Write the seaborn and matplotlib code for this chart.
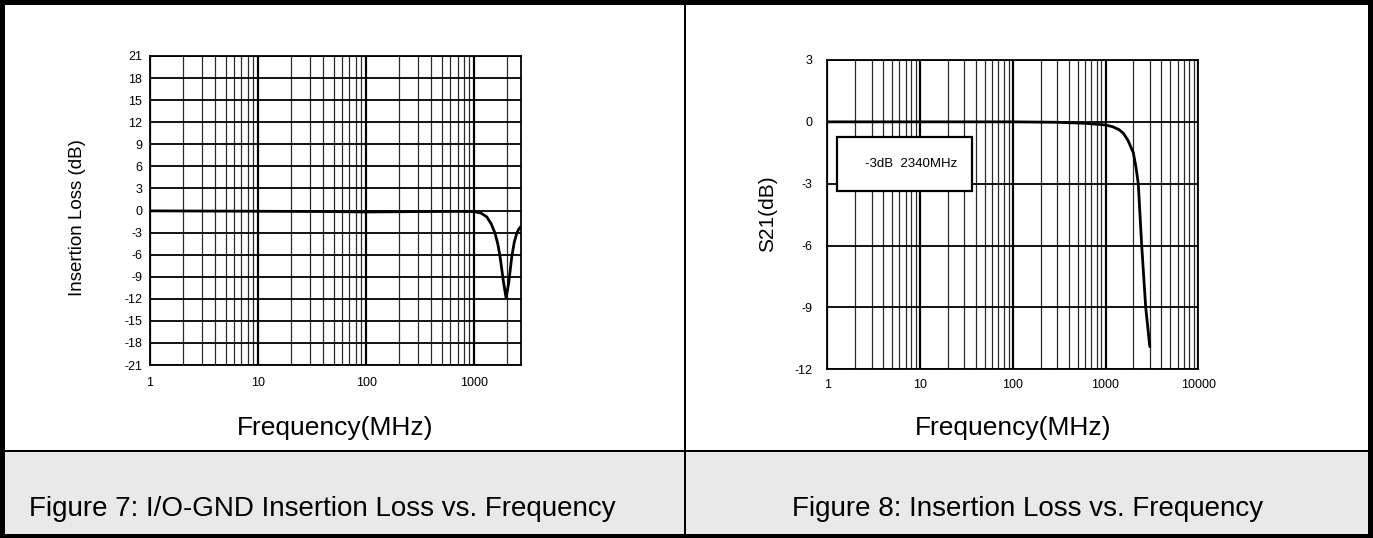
import numpy as np
import pandas as pd
import matplotlib
matplotlib.use("Agg")
import matplotlib.pyplot as plt
import seaborn as sns
from matplotlib.patches import Rectangle
from matplotlib.ticker import LogLocator, NullFormatter, FixedLocator

# ---------------- data ----------------
freq_left = [1, 10, 50, 100, 300, 700, 1000, 1150, 1300, 1430, 1554, 1650, 1730,
             1850, 1965, 2080, 2218, 2340, 2467, 2580, 2687]
loss_left = [-0.05, -0.1, -0.15, -0.2, -0.15, -0.12, -0.15, -0.35, -0.85, -1.8, -3.1,
             -4.6, -6.3, -9.5, -11.9, -9.8, -6.3, -4.3, -3.1, -2.5, -2.2]

freq_right = [1, 10, 100, 300, 600, 1000, 1200, 1400, 1553, 1746, 1993, 2128, 2254,
              2453, 2710, 3000]
s21_right = [0.0, 0.0, 0.0, -0.02, -0.07, -0.15, -0.24, -0.38, -0.55, -0.9, -1.5,
             -2.2, -3.0, -6.0, -9.0, -10.9]

yticks_left = [21, 18, 15, 12, 9, 6, 3, 0, -3, -6, -9, -12, -15, -18, -21]
yticks_right = [3, 0, -3, -6, -9, -12]
xticks_left = [1, 10, 100, 1000]
xticks_right = [1, 10, 100, 1000, 10000]

legend_text = "-3dB  2340MHz"
xlabel = "Frequency(MHz)"
ylabel_left = "Insertion Loss (dB)"
ylabel_right = "S21(dB)"
caption_left = "Figure 7: I/O-GND Insertion Loss vs. Frequency"
caption_right = "Figure 8: Insertion Loss vs. Frequency"

# ---------------- style ----------------
sns.set_style("white")
plt.rcParams["font.family"] = ["Liberation Sans", "DejaVu Sans"]
plt.rcParams["axes.unicode_minus"] = False
for key in ["text.color", "axes.labelcolor", "xtick.color", "ytick.color"]:
    plt.rcParams[key] = "black"

W, H = 1373, 538
fig = plt.figure(figsize=(W / 100, H / 100), dpi=100)
fig.patch.set_facecolor("white")


def add_rect(x0, y0, x1, y1, color, z):
    fig.add_artist(Rectangle((x0 / W, 1 - y1 / H), (x1 - x0) / W, (y1 - y0) / H,
                             transform=fig.transFigure, facecolor=color,
                             edgecolor="none", zorder=z))


# caption band
add_rect(0, 451, W, H, "#e9e9e9", -10)
# frame and dividers
add_rect(0, 0, W, 5, "black", 10)
add_rect(0, H - 4, W, H, "black", 10)
add_rect(0, 0, 5, H, "black", 10)
add_rect(W - 5, 0, W, H, "black", 10)
add_rect(684, 0, 686, H, "black", 10)
add_rect(0, 449.5, W, 451.5, "black", 10)


def style_axes(ax, xticks, yticks, xlim, ylim, xpad, ypad):
    ax.set_xscale("log")
    ax.set_xlim(*xlim)
    ax.set_ylim(*ylim)
    ax.xaxis.set_major_locator(FixedLocator(xticks))
    ax.set_xticklabels([str(t) for t in xticks])
    ax.xaxis.set_minor_locator(LogLocator(base=10, subs=np.arange(2, 10)))
    ax.xaxis.set_minor_formatter(NullFormatter())
    ax.set_yticks(yticks)
    ax.set_yticklabels([str(t) for t in yticks])
    ax.grid(True, which="major", axis="x", color="black", lw=1.6)
    ax.grid(True, which="minor", axis="x", color="#2a2a2a", lw=0.9)
    ax.grid(True, which="major", axis="y", color="black", lw=1.3)
    ax.tick_params(which="both", length=0, labelsize=9, colors="black")
    ax.tick_params(axis="x", pad=xpad)
    ax.tick_params(axis="y", pad=ypad)
    for s in ax.spines.values():
        s.set_visible(True)
        s.set_color("black")
        s.set_linewidth(1.3)
    ax.set_axisbelow(True)


# ---------------- left chart ----------------
axL = fig.add_axes([150 / W, 1 - 365 / H, 371 / W, 309 / H])
sns.lineplot(x=freq_left, y=loss_left, ax=axL, color="black", linewidth=2.0,
             estimator=None, sort=False)
style_axes(axL, xticks_left, yticks_left, (1, 2700), (-21, 21), 9, 5.5)
axL.set_xlabel(xlabel, fontsize=19)
axL.xaxis.set_label_coords(0.5, -(428 - 365) / 309)
axL.xaxis.label.set_va("center")
axL.set_ylabel(ylabel_left, fontsize=13.5)
axL.yaxis.set_label_coords(-(150 - 78) / 371, (365 - 218) / 309)
axL.yaxis.label.set_va("center")

# ---------------- right chart ----------------
axR = fig.add_axes([827.3 / W, 1 - 369.3 / H, 371 / W, 309.3 / H])
sns.lineplot(x=freq_right, y=s21_right, ax=axR, color="black", linewidth=2.0,
             estimator=None, sort=False)
style_axes(axR, xticks_right, yticks_right, (1, 10000), (-12, 3), 7, 11)
axR.set_xlabel(xlabel, fontsize=19)
axR.xaxis.set_label_coords(0.5, -(428 - 369.3) / 309.3)
axR.xaxis.label.set_va("center")
axR.set_ylabel(ylabel_right, fontsize=15)
axR.yaxis.set_label_coords(-(827.3 - 767.5) / 371, (369.3 - 214) / 309.3)
axR.yaxis.label.set_va("center")

# annotation box
axR.add_patch(Rectangle((0.025, 0.576), 0.366, 0.174, transform=axR.transAxes,
                        facecolor="white", edgecolor="black", lw=1.6, zorder=5))
axR.text(0.225, 0.664, legend_text, transform=axR.transAxes, ha="center",
         va="center", fontsize=9.5, zorder=6)

# captions
fig.text(322 / W, 1 - 509 / H, caption_left, ha="center", va="center", fontsize=20)
fig.text(1028 / W, 1 - 509 / H, caption_right, ha="center", va="center", fontsize=20)

fig.savefig("out.png", dpi=100)
